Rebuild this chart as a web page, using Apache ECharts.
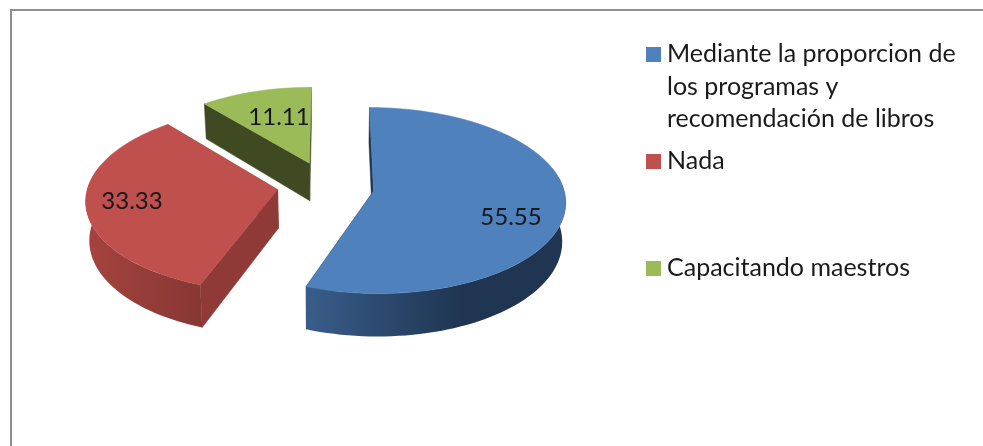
<!DOCTYPE html>
<html>
<head>
<meta charset="utf-8">
<style>html,body{margin:0;padding:0;background:#fff}#c{width:983px;height:446px}</style>
<script src="https://cdn.jsdelivr.net/npm/echarts@6/dist/echarts.min.js"></script>
</head>
<body>
<div id="c"></div>
<script>
// ---- data ----
const categories = ['Mediante la proporcion de\nlos programas y\nrecomendación de libros', 'Nada', 'Capacitando maestros'];
const values = [55.55, 33.33, 11.11];

// ---- styling and layout ----
const topColors = ['#4f81bd', '#c0504d', '#9bbb59'];
const cutColors = ['#1f3551', '#8f3a37', '#3f4a22'];
const wallStops = [['#395d8b', '#1f3551'], ['#a5433f', '#873733'], ['#3f4a22', '#3f4a22']];
const wallMid = [0.6, 1, 1];
const explode = [44, 50, 53];
const nudgeX = [0, -3, -3];
const nudgeY = [0, -2, -1];
const radiusScale = [1, 1, 0.96];
const labelAt = [[511, 217], [132, 201], [279, 117]];
const legendY = [38, 145, 252];
const legendBoxY = [47, 154, 261];
const FONT = 'Lato, "Open Sans", sans-serif';

// perspective view of the tilted pie
const X0 = 330, Y0 = 187.5, RX = 190, RY = 91.3, K = 0.10, DEPTH = 38.5, NARROW = 0.985;
const total = values.reduce((a, b) => a + b, 0);
const rad = d => d * Math.PI / 180;

function project(worldX, worldY, low) {
  const w = 1 - K * (worldY / RY);
  let x = X0 + worldX / w, y = Y0 + worldY / w;
  if (low) { x = X0 + (x - X0) * NARROW; y += DEPTH / w; }
  return [x, y];
}
function rimPoint(deg, offset, scale, low) {
  return project(offset[0] + scale * RX * Math.sin(rad(deg)), offset[1] - scale * RY * Math.cos(rad(deg)), low);
}
function arc(from, to, offset, scale, low) {
  const pts = [], n = Math.max(2, Math.ceil(Math.abs(to - from) / 2));
  for (let i = 0; i <= n; i++) pts.push(rimPoint(from + (to - from) * i / n, offset, scale, low));
  return pts;
}

function renderItem(params, api) {
  const i = params.dataIndex;
  let before = 0;
  for (let j = 0; j < i; j++) before += values[j];
  const value = api.value(0);
  const a0 = before / total * 360, a1 = (before + value) / total * 360;
  const mid = rad((a0 + a1) / 2);
  const offset = [explode[i] * Math.sin(mid) + nudgeX[i], -explode[i] * Math.cos(mid) * RY / RX + nudgeY[i]];
  const scale = radiusScale[i];
  const apex = project(offset[0], offset[1], false), apexLow = project(offset[0], offset[1], true);

  const poly = (points, fill) => ({ type: 'polygon', shape: { points }, style: { fill, stroke: fill, lineWidth: 0.5 } });
  const children = [];
  // cut faces
  [a0, a1].forEach(a => {
    children.push(poly([rimPoint(a, offset, scale, false), apex, apexLow, rimPoint(a, offset, scale, true)], cutColors[i]));
  });
  // outer wall, front part only
  const f0 = Math.max(a0, 75), f1 = Math.min(a1, 285);
  if (f1 > f0) {
    const pts = arc(f0, f1, offset, scale, false).concat(arc(f1, f0, offset, scale, true));
    const s = wallStops[i];
    const fill = new echarts.graphic.LinearGradient(0, 0, 1, 0,
      [{ offset: 0, color: s[0] }, { offset: wallMid[i], color: s[1] }, { offset: 1, color: s[1] }]);
    children.push({ type: 'polygon', shape: { points: pts }, style: { fill } });
  }
  // top face
  children.push(poly([apex].concat(arc(a0, a1, offset, scale, false)), topColors[i]));
  // value label
  children.push({
    type: 'text',
    style: {
      text: value.toFixed(2), x: labelAt[i][0], y: labelAt[i][1],
      align: 'center', verticalAlign: 'middle',
      fontFamily: FONT, fontSize: 24, fill: '#14181c'
    }
  });
  return { type: 'group', children };
}

const frame = [
  { type: 'line', shape: { x1: 11, y1: 10, x2: 983, y2: 10 }, style: { stroke: '#8e8e8e', lineWidth: 2 } },
  { type: 'line', shape: { x1: 11, y1: 9, x2: 11, y2: 446 }, style: { stroke: '#8e8e8e', lineWidth: 2 } }
];
const legend = [];
categories.forEach((name, i) => {
  legend.push({ type: 'rect', shape: { x: 646, y: legendBoxY[i], width: 15, height: 15 }, style: { fill: topColors[i] } });
  legend.push({
    type: 'text',
    style: { text: name, x: 667, y: legendY[i], fontFamily: FONT, fontSize: 25, fill: '#1a1a1a', lineHeight: 32.5, align: 'left', verticalAlign: 'top' }
  });
});

const chart = echarts.init(document.getElementById('c'), null, { renderer: 'canvas' });
chart.setOption({
  animation: false,
  backgroundColor: '#ffffff',
  graphic: { elements: frame.concat(legend) },
  series: [{
    type: 'custom',
    coordinateSystem: 'none',
    renderItem,
    data: values.map(v => [v])
  }]
});
</script>
</body>
</html>
